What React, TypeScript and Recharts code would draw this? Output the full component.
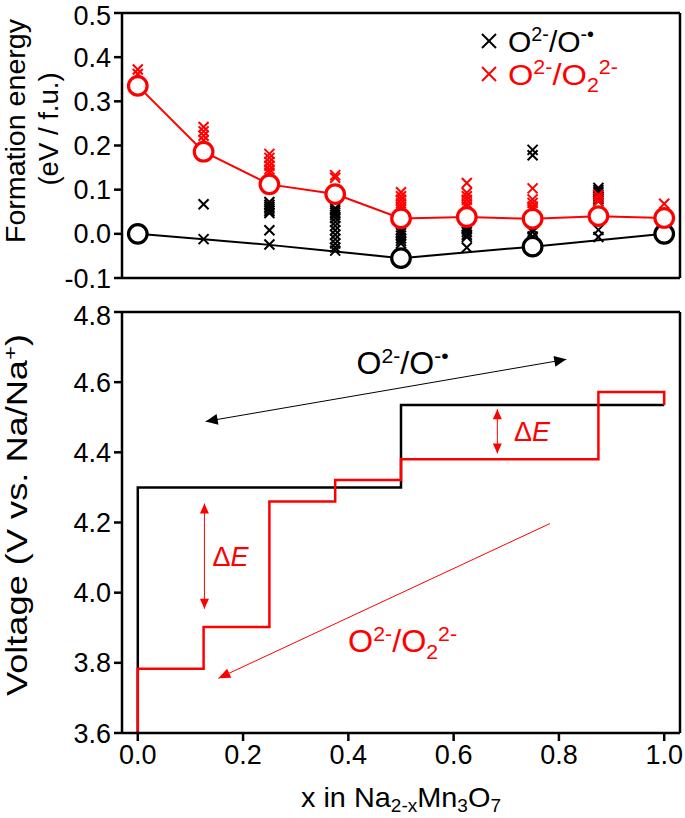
import React from 'react';
import { ComposedChart, Line, Scatter, XAxis, YAxis, ReferenceLine, ReferenceDot, Legend } from 'recharts';

const FONT = '"Liberation Sans", Arial, Helvetica, sans-serif';
const RED = '#ff0000';

// ---- top panel: formation energy (eV / f.u.) ----
const compositions = [0, 0.125, 0.25, 0.375, 0.5, 0.625, 0.75, 0.875, 1.0];
const peroxoEnergies = [0.335, 0.186, 0.112, 0.09, 0.035, 0.038, 0.034, 0.04, 0.036];

const hullX = [0, 0.125, 0.25, 0.375, 0.5, 0.75, 1.0];
const hullEnergies = [0, -0.012, -0.025, -0.04, -0.055, -0.029, 0];

const stableX = [0, 0.5, 0.75, 1.0];
const stableEnergies = [0, -0.055, -0.029, 0];

// every configuration, [x, energy]
const radicalConfigs = [
  [0.125, 0.067], [0.125, -0.012],
  [0.25, 0.072], [0.25, 0.066], [0.25, 0.061], [0.25, 0.057], [0.25, 0.052], [0.25, 0.047], [0.25, 0.008], [0.25, -0.024],
  [0.375, 0.058], [0.375, 0.053], [0.375, 0.048], [0.375, 0.043], [0.375, 0.036], [0.375, 0.027], [0.375, 0.018],
  [0.375, 0.008], [0.375, -0.002], [0.375, -0.012], [0.375, -0.022], [0.375, -0.031], [0.375, -0.038],
  [0.5, 0.008], [0.5, 0.002], [0.5, -0.004], [0.5, -0.01], [0.5, -0.016], [0.5, -0.022],
  [0.625, 0.016], [0.625, 0.01], [0.625, 0.004], [0.625, -0.002], [0.625, -0.007], [0.625, -0.031],
  [0.75, 0.19], [0.75, 0.178], [0.75, 0.04], [0.75, 0.032], [0.75, 0.01], [0.75, 0.004], [0.75, -0.006],
  [0.875, 0.104], [0.875, 0.099], [0.875, 0.094], [0.875, 0.089], [0.875, 0.084], [0.875, 0.079], [0.875, 0.074],
  [0.875, 0.009], [0.875, -0.007],
];

const peroxoConfigs = [
  [0, 0.372], [0, 0.362],
  [0.125, 0.242], [0.125, 0.232], [0.125, 0.222], [0.125, 0.212],
  [0.25, 0.181], [0.25, 0.172], [0.25, 0.163], [0.25, 0.154], [0.25, 0.146], [0.25, 0.139],
  [0.375, 0.133], [0.375, 0.127],
  [0.5, 0.094], [0.5, 0.085], [0.5, 0.077], [0.5, 0.069], [0.5, 0.062], [0.5, 0.055],
  [0.625, 0.115], [0.625, 0.093], [0.625, 0.085], [0.625, 0.077], [0.625, 0.069], [0.625, 0.062],
  [0.75, 0.103], [0.75, 0.078], [0.75, 0.07], [0.75, 0.062], [0.75, 0.055],
  [0.875, 0.088], [0.875, 0.081], [0.875, 0.074],
  [1.0, 0.068],
];

const energyTicks = [-0.1, 0, 0.1, 0.2, 0.3, 0.4, 0.5];

// ---- bottom panel: voltage profile ----
const radicalStepX = [0, 0, 0.5, 1.0];
const radicalVoltage = [3.6, 4.3, 4.535, 4.535];
const peroxoStepX = [0, 0, 0.125, 0.25, 0.375, 0.5, 0.875, 1.0];
const peroxoVoltage = [3.6, 3.783, 3.902, 4.26, 4.321, 4.38, 4.572, 4.535];

const voltageTicks = [3.6, 3.8, 4.0, 4.2, 4.4, 4.6, 4.8];
const xTicks = [0, 0.2, 0.4, 0.6, 0.8, 1.0];

// annotation arrows [x1, y1, x2, y2]
const radicalArrow = [0.129, 4.488, 0.814, 4.665];
const gapArrowLeft = [0.1266, 4.254, 0.1266, 3.954];
const gapArrowRight = [0.683, 4.523, 0.683, 4.397];
const peroxoArrow = [0.783, 4.197, 0.153, 3.756];

const pts = (xs: number[], ys: number[]) => xs.map((x, i) => ({ x, y: ys[i] }));
const pairs = (arr: number[][]) => arr.map(([x, y]) => ({ x, y }));

type Part = { t: string; s?: 'sup' | 'sub'; i?: boolean };

function RichText({ x, y, parts, size, fill = '#000', anchor = 'middle', transform, len, sub = 0.22 }: any) {
  let shift = 0;
  const spans = (parts as Part[]).map((p, i) => {
    const target = p.s === 'sup' ? -0.36 * size : p.s === 'sub' ? sub * size : 0;
    const dy = target - shift;
    shift = target;
    return (
      <tspan key={i} dy={dy} fontSize={p.s ? size * 0.66 : size} fontStyle={p.i ? 'italic' : 'normal'}>
        {p.t}
      </tspan>
    );
  });
  return (
    <text
      x={x}
      y={y}
      textAnchor={anchor}
      fill={fill}
      fontFamily={FONT}
      fontSize={size}
      transform={transform}
      textLength={len}
      lengthAdjust={len ? 'spacingAndGlyphs' : undefined}
    >
      {spans}
    </text>
  );
}

const radicalLabel: Part[] = [{ t: 'O' }, { t: '2-', s: 'sup' }, { t: '/O' }, { t: '-\u2022', s: 'sup' }];
const peroxoLabel: Part[] = [{ t: 'O' }, { t: '2-', s: 'sup' }, { t: '/O' }, { t: '2', s: 'sub' }, { t: '2-', s: 'sup' }];
const gapLabel: Part[] = [{ t: '\u0394' }, { t: 'E', i: true }];

const crossShape = (color: string, h = 5) => (p: any) => {
  const { cx, cy } = p;
  return (
    <g stroke={color} strokeWidth={2}>
      <line x1={cx - h} y1={cy - h} x2={cx + h} y2={cy + h} />
      <line x1={cx - h} y1={cy + h} x2={cx + h} y2={cy - h} />
    </g>
  );
};

const ringShape = (color: string) => (p: any) => {
  if (p.cx == null || p.cy == null) return <g />;
  return <circle cx={p.cx} cy={p.cy} r={9.3} fill="#fff" stroke={color} strokeWidth={3.2} />;
};

const arrowShape = (color: string, both: boolean, len: number, half: number, width: number) => (p: any) => {
  const { x1, y1, x2, y2 } = p;
  const head = (tx: number, ty: number, fx: number, fy: number) => {
    const dx = tx - fx, dy = ty - fy;
    const d = Math.hypot(dx, dy) || 1;
    const ux = dx / d, uy = dy / d;
    const bx = tx - ux * len, by = ty - uy * len;
    return `${tx},${ty} ${bx - uy * half},${by + ux * half} ${bx + uy * half},${by - ux * half}`;
  };
  return (
    <g>
      <line x1={x1} y1={y1} x2={x2} y2={y2} stroke={color} strokeWidth={width} />
      <polygon points={head(x2, y2, x1, y1)} fill={color} />
      {both && <polygon points={head(x1, y1, x2, y2)} fill={color} />}
    </g>
  );
};

const textDot = (parts: Part[], size: number, fill: string, len?: number) => (p: any) => (
  <RichText x={p.cx} y={p.cy} parts={parts} size={size} fill={fill} len={len} />
);

const axisStroke = { stroke: '#000', strokeWidth: 2.5 };
const tickStyle = { fill: '#000', fontSize: 27, fontFamily: FONT };
const X_DOMAIN: [number, number] = [-0.03, 1.03];

const EnergyLegend = () => (
  <svg width={200} height={80} style={{ display: 'block' }}>
    {crossShape('#000', 7)({ cx: 14, cy: 22 })}
    <RichText x={33} y={33} parts={radicalLabel} size={30} anchor="start" len={86} />
    {crossShape(RED, 7)({ cx: 14, cy: 55 })}
    <RichText x={33} y={66} parts={peroxoLabel} size={30} fill={RED} anchor="start" len={110} />
  </svg>
);

const EnergyTitle = () => (
  <g>
    <text transform="translate(25,131) rotate(-90)" textAnchor="middle" fontFamily={FONT} fontSize={27.5} fill="#000" textLength={224} lengthAdjust="spacingAndGlyphs">
      Formation energy
    </text>
    <text transform="translate(58,129) rotate(-90)" textAnchor="middle" fontFamily={FONT} fontSize={27.5} fill="#000">
      (eV / f.u.)
    </text>
  </g>
);

const VoltageTitle = () => (
  <RichText
    x={0}
    y={0}
    transform="translate(27,215) rotate(-90)"
    parts={[{ t: 'Voltage (V vs. Na/Na' }, { t: '+', s: 'sup' }, { t: ')' }]}
    size={29}
    len={362}
  />
);

const XTitle = (props: any) => {
  const vb = props.viewBox;
  return (
    <RichText
      x={vb.x + vb.width / 2}
      y={vb.y + 74}
      parts={[{ t: 'x in Na' }, { t: '2-x', s: 'sub' }, { t: 'Mn' }, { t: '3', s: 'sub' }, { t: 'O' }, { t: '7', s: 'sub' }]}
      size={28}
      len={200}
      sub={0.18}
    />
  );
};

export default function App() {
  return (
    <div style={{ position: 'absolute', left: 0, top: 0, width: 685, height: 818, background: '#fff' }}>
      <div style={{ position: 'absolute', left: 0, top: 0 }}>
        <ComposedChart width={685} height={300} margin={{ top: 13, right: 5, bottom: 0, left: 0 }}>
          <XAxis
            dataKey="x"
            type="number"
            domain={X_DOMAIN}
            allowDataOverflow
            ticks={xTicks}
            tick={false}
            tickSize={8}
            height={22}
            axisLine={axisStroke}
            tickLine={axisStroke}
          />
          <YAxis
            type="number"
            domain={[-0.1, 0.5]}
            allowDataOverflow
            ticks={energyTicks}
            tickFormatter={(v: number) => v.toFixed(1)}
            width={122}
            tickSize={8}
            tickMargin={3}
            tick={tickStyle}
            axisLine={axisStroke}
            tickLine={axisStroke}
            label={{ content: () => <EnergyTitle /> }}
          />
          <ReferenceLine y={0.5} stroke="#000" strokeWidth={2.5} />
          <ReferenceLine x={1.03} stroke="#000" strokeWidth={2.5} />
          <Scatter data={pairs(radicalConfigs)} dataKey="y" shape={crossShape('#000')} isAnimationActive={false} />
          <Scatter data={pairs(peroxoConfigs)} dataKey="y" shape={crossShape(RED)} isAnimationActive={false} />
          <Line
            data={pts(hullX, hullEnergies)}
            dataKey="y"
            type="linear"
            stroke="#000"
            strokeWidth={2}
            dot={false}
            activeDot={false}
            isAnimationActive={false}
          />
          <Scatter data={pts(stableX, stableEnergies)} dataKey="y" shape={ringShape('#000')} isAnimationActive={false} />
          <Line
            data={pts(compositions, peroxoEnergies)}
            dataKey="y"
            type="linear"
            stroke={RED}
            strokeWidth={2}
            dot={ringShape(RED)}
            activeDot={false}
            isAnimationActive={false}
          />
          <Legend
            layout="horizontal"
            verticalAlign="middle"
            align="center"
            content={() => <EnergyLegend />}
            wrapperStyle={{ position: 'absolute', top: 19, left: 475, width: 200, height: 80 }}
          />
        </ComposedChart>
      </div>

      <div style={{ position: 'absolute', left: 0, top: 300 }}>
        <ComposedChart width={685} height={518} margin={{ top: 12, right: 5, bottom: 0, left: 0 }}>
          <XAxis
            dataKey="x"
            type="number"
            domain={X_DOMAIN}
            allowDataOverflow
            ticks={xTicks}
            tickFormatter={(v: number) => v.toFixed(1)}
            tick={tickStyle}
            tickSize={8}
            tickMargin={4}
            height={85}
            axisLine={axisStroke}
            tickLine={axisStroke}
            label={{ content: (p: any) => <XTitle {...p} /> }}
          />
          <YAxis
            type="number"
            domain={[3.6, 4.8]}
            allowDataOverflow
            ticks={voltageTicks}
            tickFormatter={(v: number) => v.toFixed(1)}
            width={122}
            tickSize={8}
            tickMargin={3}
            tick={tickStyle}
            axisLine={axisStroke}
            tickLine={axisStroke}
            label={{ content: () => <VoltageTitle /> }}
          />
          <ReferenceLine y={4.8} stroke="#000" strokeWidth={2.5} />
          <ReferenceLine x={1.03} stroke="#000" strokeWidth={2.5} />
          <Line
            data={pts(radicalStepX, radicalVoltage)}
            dataKey="y"
            type="stepAfter"
            stroke="#000"
            strokeWidth={2.5}
            dot={false}
            activeDot={false}
            isAnimationActive={false}
          />
          <Line
            data={pts(peroxoStepX, peroxoVoltage)}
            dataKey="y"
            type="stepAfter"
            stroke={RED}
            strokeWidth={2.5}
            dot={false}
            activeDot={false}
            isAnimationActive={false}
          />
          <ReferenceLine
            segment={[{ x: radicalArrow[0], y: radicalArrow[1] }, { x: radicalArrow[2], y: radicalArrow[3] }]}
            shape={arrowShape('#000', true, 12, 5.5, 1)}
          />
          <ReferenceLine
            segment={[{ x: gapArrowLeft[0], y: gapArrowLeft[1] }, { x: gapArrowLeft[2], y: gapArrowLeft[3] }]}
            shape={arrowShape(RED, true, 10, 4.5, 1)}
          />
          <ReferenceLine
            segment={[{ x: gapArrowRight[0], y: gapArrowRight[1] }, { x: gapArrowRight[2], y: gapArrowRight[3] }]}
            shape={arrowShape(RED, true, 10, 4.5, 1)}
          />
          <ReferenceLine
            segment={[{ x: peroxoArrow[0], y: peroxoArrow[1] }, { x: peroxoArrow[2], y: peroxoArrow[3] }]}
            shape={arrowShape(RED, false, 12, 5, 1)}
          />
          <ReferenceDot x={0.503} y={4.623} r={0} shape={textDot(radicalLabel, 31, '#000', 92)} />
          <ReferenceDot x={0.503} y={3.83} r={0} shape={textDot(peroxoLabel, 31, RED, 109)} />
          <ReferenceDot x={0.176} y={4.077} r={0} shape={textDot(gapLabel, 27, RED)} />
          <ReferenceDot x={0.749} y={4.432} r={0} shape={textDot(gapLabel, 27, RED)} />
        </ComposedChart>
      </div>
    </div>
  );
}
